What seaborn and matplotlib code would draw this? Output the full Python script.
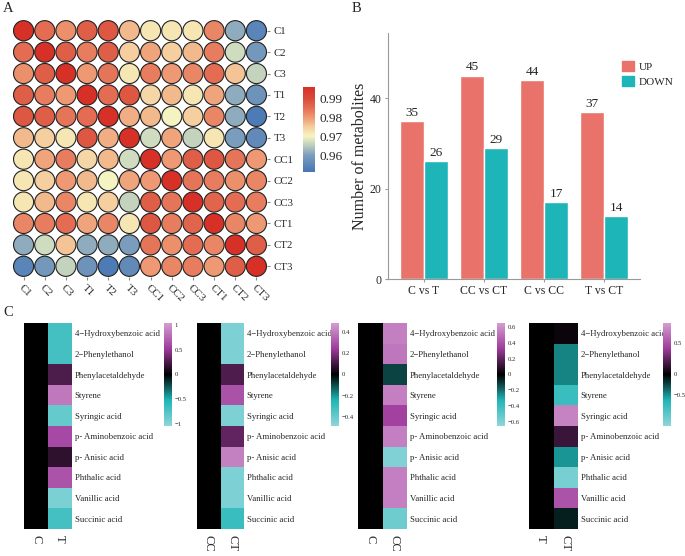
import numpy as np
import pandas as pd
import matplotlib
matplotlib.use("Agg")
import matplotlib.pyplot as plt
import seaborn as sns
from matplotlib.colors import LinearSegmentedColormap, Normalize, TwoSlopeNorm
from matplotlib.cm import ScalarMappable
from matplotlib.patches import Patch

sns.set_style("white")
plt.rcParams['font.family'] = ['Liberation Serif', 'DejaVu Serif']

# ---- data ----
samples = ['C1', 'C2', 'C3', 'T1', 'T2', 'T3', 'CC1', 'CC2', 'CC3', 'CT1', 'CT2', 'CT3']
corr = [
    [1.000, 0.985, 0.981, 0.987, 0.988, 0.977, 0.972, 0.972, 0.972, 0.982, 0.962, 0.955],
    [0.985, 1.000, 0.987, 0.983, 0.987, 0.975, 0.979, 0.975, 0.977, 0.983, 0.967, 0.959],
    [0.981, 0.987, 1.000, 0.980, 0.984, 0.972, 0.983, 0.980, 0.982, 0.985, 0.976, 0.966],
    [0.987, 0.983, 0.980, 1.000, 0.985, 0.988, 0.974, 0.977, 0.972, 0.979, 0.962, 0.958],
    [0.988, 0.987, 0.984, 0.985, 1.000, 0.978, 0.977, 0.970, 0.975, 0.982, 0.962, 0.953],
    [0.977, 0.975, 0.972, 0.988, 0.978, 1.000, 0.967, 0.979, 0.966, 0.972, 0.960, 0.956],
    [0.972, 0.979, 0.983, 0.974, 0.977, 0.967, 1.000, 0.980, 0.987, 0.988, 0.984, 0.980],
    [0.972, 0.975, 0.980, 0.977, 0.970, 0.979, 0.980, 1.000, 0.984, 0.983, 0.981, 0.982],
    [0.972, 0.977, 0.982, 0.972, 0.975, 0.966, 0.987, 0.984, 1.000, 0.986, 0.985, 0.983],
    [0.982, 0.983, 0.985, 0.979, 0.982, 0.972, 0.988, 0.983, 0.986, 1.000, 0.982, 0.980],
    [0.962, 0.967, 0.976, 0.962, 0.962, 0.960, 0.984, 0.981, 0.985, 0.982, 1.000, 0.987],
    [0.955, 0.959, 0.966, 0.958, 0.953, 0.956, 0.980, 0.982, 0.983, 0.980, 0.987, 1.000],
]

comparisons = ['C vs T', 'CC vs CT', 'C vs CC', 'T vs CT']
up_counts = [35, 45, 44, 37]
down_counts = [26, 29, 17, 14]

metabolites = ['4\u2212Hydroxybenzoic acid', '2\u2212Phenylethanol', 'Phenylacetaldehyde',
               'Styrene', 'Syringic acid', 'p- Aminobenzoic acid', 'p- Anisic acid',
               'Phthalic acid', 'Vanillic acid', 'Succinic acid']
fc_c_t = [-0.70, -0.70, 0.25, 0.85, -0.85, 0.60, 0.15, 0.65, -0.95, -0.70]
fc_cc_ct = [-0.45, -0.45, 0.12, 0.30, -0.45, 0.15, 0.42, -0.45, -0.45, -0.30]
fc_c_cc = [0.55, 0.52, -0.12, 0.55, 0.35, 0.55, -0.60, 0.55, 0.55, -0.55]
fc_t_ct = [0.03, -0.45, -0.45, -0.75, 0.70, 0.15, -0.50, -1.10, 0.50, -0.10]

W, H = 685, 556
fig = plt.figure(figsize=(W / 100, H / 100), dpi=100)


def rect(x0, y0, x1, y1):
    return [x0 / W, 1 - y1 / H, (x1 - x0) / W, (y1 - y0) / H]


# ---- panel A: correlation circles ----
cmapA = LinearSegmentedColormap.from_list('corr', [
    (0.00, '#4575B4'), (0.20, '#7E9FBE'), (0.33, '#C6D5BE'), (0.42, '#F6F4C2'),
    (0.53, '#F5CF9F'), (0.64, '#EE9A74'), (0.76, '#E36B51'), (0.87, '#D94A38'),
    (1.00, '#D73027')])
corr_long = pd.DataFrame(
    [(samples[j], samples[i], corr[i][j]) for i in range(12) for j in range(12)],
    columns=['col', 'row', 'r'])
normA = Normalize(0.9517, 0.9957)
axA = fig.add_axes(rect(13, 20, 267, 277))
sns.scatterplot(data=corr_long, x='col', y='row', hue='r', palette=cmapA,
                hue_norm=normA, s=210, edgecolor='#222222', linewidth=0.8,
                legend=False, ax=axA)
axA.set_xlim(-0.5, 11.5)
axA.set_ylim(11.5, -0.5)
axA.set_xlabel('')
axA.set_ylabel('')
for s in axA.spines.values():
    s.set_visible(False)
axA.yaxis.tick_right()
axA.tick_params(axis='both', length=2.5, color='#888888', labelsize=7.8, pad=2,
                bottom=True, right=True, left=False)
axA.set_xticks(range(12))
axA.set_xticklabels(samples, rotation=-45, ha='left', va='top', rotation_mode='anchor')

caxA = fig.add_axes(rect(303, 87, 315, 172))
cbA = fig.colorbar(ScalarMappable(norm=normA, cmap=cmapA), cax=caxA)
cbA.set_ticks([0.96, 0.97, 0.98, 0.99])
cbA.outline.set_visible(False)
caxA.tick_params(length=2.5, color='white', direction='in', labelsize=9.5, pad=3)

fig.text(3 / W, 1 - 2 / H, 'A', fontsize=10.5, va='top', ha='left')
fig.text(352 / W, 1 - 2 / H, 'B', fontsize=10.5, va='top', ha='left')
fig.text(3 / W, 1 - 306 / H, 'C', fontsize=10.5, va='top', ha='left')

# ---- panel B: up/down counts ----
bar_df = pd.DataFrame({
    'comparison': comparisons * 2,
    'count': up_counts + down_counts,
    'direction': ['UP'] * 4 + ['DOWN'] * 4,
})
up_col, down_col = '#E9736B', '#1DB5B8'
axB = fig.add_axes(rect(388, 33, 640, 279))
sns.barplot(data=bar_df, x='comparison', y='count', hue='direction',
            palette=[up_col, down_col], width=0.8, saturation=1, legend=False, ax=axB)
for cont in axB.containers:
    axB.bar_label(cont, padding=1.5, fontsize=9.5)
axB.set_xlim(-0.6, 3.6)
axB.set_ylim(0, 54.4)
axB.set_yticks([0, 20, 40])
axB.set_xlabel('')
axB.set_ylabel('Number of metabolites', fontsize=11.5, labelpad=1.5)
for side in ['top', 'right']:
    axB.spines[side].set_visible(False)
for side in ['left', 'bottom']:
    axB.spines[side].set_color('#999999')
    axB.spines[side].set_linewidth(0.8)
axB.tick_params(axis='both', length=2.5, color='#999999', labelsize=8.5, pad=2,
                bottom=True, left=True)
fig.legend([Patch(color=up_col), Patch(color=down_col)], ['UP', 'DOWN'],
           loc='upper left', bbox_to_anchor=(618 / W, 1 - 57 / H), frameon=False,
           fontsize=8, handlelength=1.0, handleheight=1.0, handletextpad=0.5,
           labelspacing=0.35, borderaxespad=0)

# ---- panel C: fold change heatmaps ----
cmapC = LinearSegmentedColormap.from_list(
    'fc', ['#8FD6DA', '#1FB5B5', '#000000', '#9E3A9C', '#D39DD0'])
heatmaps = [
    (('C', 'T'), fc_c_t, (24, 72), 164, (-1.05, 1.05), [1, 0.5, 0, -0.5, -1]),
    (('CC', 'CT'), fc_cc_ct, (197, 244), 331, (-0.49, 0.49), [0.4, 0.2, 0, -0.2, -0.4]),
    (('C', 'CC'), fc_c_cc, (358, 407), 497, (-0.65, 0.65), [0.6, 0.4, 0.2, 0, -0.2, -0.4, -0.6]),
    (('T', 'CT'), fc_t_ct, (529, 578), 663, (-1.23, 0.81), [0.5, 0, -0.5]),
]
for cols, vals, (x0, x1), cx, (vmin, vmax), ticks in heatmaps:
    df = pd.DataFrame({cols[0]: [0.0] * len(vals), cols[1]: vals}, index=metabolites)
    ax = fig.add_axes(rect(x0, 323, x1, 529))
    cax = fig.add_axes(rect(cx, 323, cx + 8, 426))
    sns.heatmap(df, cmap=cmapC, norm=TwoSlopeNorm(vcenter=0, vmin=vmin, vmax=vmax),
                cbar_ax=cax, ax=ax, xticklabels=True, yticklabels=True)
    ax.yaxis.tick_right()
    ax.set_yticklabels(metabolites, rotation=0, ha='left', fontsize=6.3)
    ax.set_xticklabels(cols, rotation=270, fontsize=9)
    ax.tick_params(length=0, pad=2)
    ax.tick_params(axis='x', pad=4)
    cax.set_yticks(ticks)
    cax.set_yticklabels([f'{t:g}'.replace('-', '\u2212') for t in ticks])
    cax.tick_params(length=0, labelsize=4.8, pad=2)

fig.savefig('out.png', dpi=100)
